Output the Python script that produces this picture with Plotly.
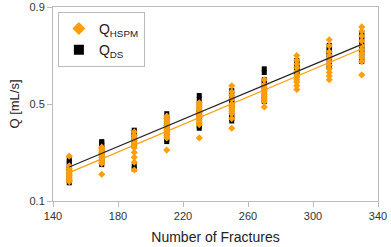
import plotly.graph_objects as go

fractures = [150, 170, 190, 210, 230, 250, 270, 290, 310, 330]

q_ds = [
    [0.175, 0.185, 0.195, 0.205, 0.215, 0.225, 0.232, 0.24, 0.25, 0.262, 0.272],
    [0.25, 0.26, 0.27, 0.28, 0.29, 0.30, 0.31, 0.32, 0.33, 0.34, 0.345],
    [0.232, 0.245, 0.33, 0.34, 0.35, 0.36, 0.365, 0.37, 0.38, 0.385, 0.392],
    [0.345, 0.355, 0.37, 0.38, 0.39, 0.40, 0.41, 0.42, 0.435, 0.445, 0.46],
    [0.40, 0.41, 0.42, 0.44, 0.45, 0.46, 0.47, 0.48, 0.50, 0.52, 0.535],
    [0.43, 0.44, 0.45, 0.46, 0.48, 0.49, 0.50, 0.51, 0.52, 0.54, 0.555],
    [0.51, 0.52, 0.53, 0.545, 0.56, 0.57, 0.58, 0.59, 0.60, 0.63, 0.645],
    [0.62, 0.63, 0.635, 0.64, 0.645, 0.65, 0.655, 0.66, 0.67, 0.675, 0.68],
    [0.65, 0.66, 0.675, 0.69, 0.70, 0.705, 0.71, 0.72, 0.725, 0.735, 0.742],
    [0.675, 0.685, 0.70, 0.71, 0.72, 0.73, 0.74, 0.755, 0.77, 0.78, 0.795],
]

q_hspm = [
    [0.18, 0.185, 0.19, 0.198, 0.205, 0.21, 0.22, 0.225, 0.235, 0.245, 0.285],
    [0.21, 0.255, 0.262, 0.27, 0.28, 0.288, 0.295, 0.30, 0.31, 0.318, 0.322],
    [0.228, 0.26, 0.28, 0.30, 0.32, 0.33, 0.34, 0.35, 0.36, 0.37, 0.385],
    [0.31, 0.36, 0.37, 0.38, 0.39, 0.40, 0.41, 0.42, 0.43, 0.44, 0.45],
    [0.36, 0.415, 0.425, 0.435, 0.445, 0.455, 0.465, 0.475, 0.485, 0.495, 0.505],
    [0.40, 0.44, 0.46, 0.47, 0.48, 0.49, 0.50, 0.52, 0.535, 0.55, 0.575],
    [0.488, 0.51, 0.52, 0.53, 0.54, 0.55, 0.555, 0.56, 0.57, 0.58, 0.60],
    [0.56, 0.575, 0.59, 0.60, 0.61, 0.62, 0.635, 0.65, 0.665, 0.68, 0.70],
    [0.60, 0.615, 0.63, 0.645, 0.66, 0.675, 0.69, 0.70, 0.715, 0.74, 0.765],
    [0.62, 0.675, 0.69, 0.70, 0.71, 0.725, 0.74, 0.76, 0.78, 0.80, 0.818],
]

trend_x = [150, 330]
trend_ds = [0.240, 0.746]
trend_hspm = [0.217, 0.728]

x_ticks = [140, 180, 220, 260, 300, 340]
y_ticks = [0.1, 0.5, 0.9]

ORANGE = "#FF9E0D"
BLACK = "#000000"

def flatten(groups):
    xs, ys = [], []
    for xv, vals in zip(fractures, groups):
        for v in vals:
            xs.append(xv)
            ys.append(v)
    return xs, ys

dx, dy = flatten(q_ds)
hx, hy = flatten(q_hspm)

fig = go.Figure()
fig.add_trace(go.Scatter(
    x=dx, y=dy, mode="markers", showlegend=False,
    marker=dict(symbol="square", size=5, color=BLACK, line=dict(width=0)),
))
fig.add_trace(go.Scatter(
    x=hx, y=hy, mode="markers", showlegend=False,
    marker=dict(symbol="diamond", size=5.5, color=ORANGE, line=dict(width=0)),
))
fig.add_trace(go.Scatter(
    x=trend_x, y=trend_ds, mode="lines", showlegend=False,
    line=dict(color="#222222", width=1.2),
))
fig.add_trace(go.Scatter(
    x=trend_x, y=trend_hspm, mode="lines", showlegend=False,
    line=dict(color=ORANGE, width=1.2),
))
# legend entries with larger symbols
fig.add_trace(go.Scatter(
    x=[None], y=[None], mode="markers", name="Q<sub>HSPM</sub>", legendrank=1,
    marker=dict(symbol="diamond", size=10, color=ORANGE, line=dict(width=0)),
))
fig.add_trace(go.Scatter(
    x=[None], y=[None], mode="markers", name="Q<sub>DS</sub>", legendrank=2,
    marker=dict(symbol="square", size=10, color=BLACK, line=dict(width=0)),
))

axis_common = dict(
    showgrid=False, zeroline=False, showline=True, linecolor="#BBBBBB",
    linewidth=1, mirror=True, ticks="outside", tickcolor="#BBBBBB",
    ticklen=5, tickfont=dict(size=11, color="#333333"), automargin=False,
)

fig.update_layout(
    width=391, height=247,
    margin=dict(l=53, r=13, t=7, b=46),
    paper_bgcolor="white", plot_bgcolor="white",
    font=dict(family="Liberation Sans, Arial, sans-serif", color="#222222"),
    xaxis=dict(range=[140, 340], tickvals=x_ticks,
               title=dict(text="Number of Fractures", font=dict(size=14), standoff=10),
               **axis_common),
    yaxis=dict(range=[0.1, 0.9], tickvals=y_ticks, ticktext=["0.1", "0.5", "0.9"],
               title=dict(text="Q [mL/s]", font=dict(size=13), standoff=6),
               **axis_common),
    legend=dict(x=0.015, y=0.975, xanchor="left", yanchor="top",
                bordercolor="#BBBBBB", borderwidth=1, bgcolor="white",
                font=dict(size=14, color="#222222"),
                itemwidth=30, tracegroupgap=2),
)

fig.write_html(
    "out.html",
    config={"displayModeBar": False},
    post_script="document.body.style.margin='0';document.body.style.overflow='hidden';",
)
